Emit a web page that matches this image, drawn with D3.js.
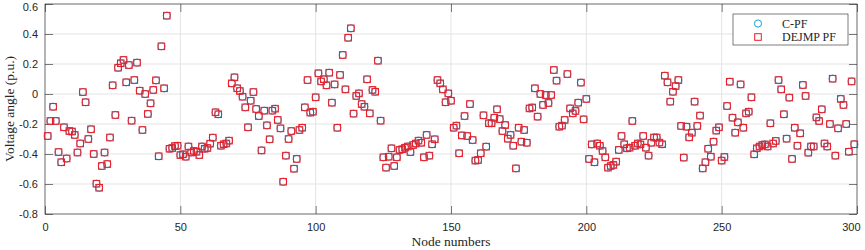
<!DOCTYPE html>
<html>
<head>
<meta charset="utf-8">
<script src="https://cdn.jsdelivr.net/npm/d3@7"></script>
<style>
  body { margin: 0; background: #fff; }
  svg text { fill: #262626; }
</style>
</head>
<body>
<svg id="chart" width="865" height="250"></svg>
<script>
// voltage angle (p.u.) per node (node 1 .. n)
var cpfAngle = [
  -0.28, -0.18, -0.085, -0.18, -0.387, -0.455, -0.222, -0.43, -0.247, -0.25,
  -0.273, -0.39, -0.33, 0.013, -0.055, -0.30, -0.235, -0.40, -0.598, -0.625,
  -0.48, -0.39, -0.467, -0.29, 0.058, -0.14, 0.175, 0.205, 0.227, 0.078,
  0.193, -0.178, 0.093, 0.209, 0.022, -0.24, 0.0, -0.133, -0.062, 0.027,
  0.091, -0.415, 0.318, 0.038, 0.522, -0.365, -0.36, -0.347, -0.345, -0.407,
  -0.402, -0.418, -0.35, -0.39, -0.38, -0.385, -0.407, -0.35, -0.365, -0.36,
  -0.331, -0.291, -0.122, -0.135, -0.345, -0.335, -0.33, -0.311, 0.071, 0.111,
  0.038, 0.02, -0.018, -0.089, -0.222, -0.045, 0.013, -0.10, -0.147, -0.376,
  -0.111, -0.209, -0.302, -0.111, -0.098, -0.173, -0.229, -0.585, -0.411, -0.30,
  -0.247, -0.498, -0.433, -0.24, -0.225, -0.089, 0.093, -0.124, -0.118, -0.022,
  0.138, 0.084, 0.098, 0.058, 0.142, -0.058, 0.064, -0.225, 0.127, 0.26,
  0.031, 0.375, 0.438, -0.131, -0.013, 0.004, -0.067, -0.085, 0.098, -0.129,
  0.027, 0.015, 0.222, -0.178, -0.422, -0.491, -0.418, -0.362, -0.48, -0.422,
  -0.373, -0.368, -0.358, -0.35, -0.387, -0.34, -0.33, -0.311, -0.325, -0.422,
  -0.273, -0.411, -0.335, -0.302, 0.093, 0.071, 0.031, -0.055, 0.004, -0.045,
  -0.225, -0.211, -0.395, -0.276, -0.147, -0.28, -0.067, -0.307, -0.444, -0.44,
  -0.395, -0.142, -0.351, -0.195, -0.195, -0.158, -0.102, -0.167, -0.247, -0.207,
  -0.298, -0.273, -0.345, -0.496, -0.225, -0.318, -0.24, -0.325, -0.096, -0.09,
  0.038, -0.151, 0.0, -0.073, -0.007, -0.06, -0.007, 0.16, 0.089, -0.218,
  -0.211, -0.173, 0.133, -0.096, -0.129, -0.113, -0.058, 0.076, -0.169, -0.033,
  -0.433, -0.336, -0.455, -0.33, -0.345, -0.38, -0.422, -0.491, -0.48, -0.473,
  -0.451, -0.373, -0.28, -0.335, -0.362, -0.358, -0.18, -0.345, -0.33, -0.336,
  -0.28, -0.358, -0.411, -0.325, -0.29, -0.29, -0.324, -0.335, 0.122, 0.078,
  -0.051, 0.015, 0.053, 0.093, -0.213, -0.424, -0.218, -0.289, -0.258, -0.051,
  -0.213, -0.144, -0.496, -0.455, -0.365, -0.418, -0.318, -0.244, -0.222, -0.444,
  -0.42, -0.08, 0.082, -0.158, -0.258, -0.189, 0.064, -0.225, -0.129, -0.118,
  -0.022, -0.402, -0.362, -0.35, -0.34, -0.336, -0.35, -0.195, -0.33, -0.313,
  0.093, 0.031, -0.135, -0.298, -0.024, -0.433, -0.225, -0.345, -0.262, 0.06,
  -0.013, -0.391, -0.35, -0.35, -0.156, -0.18, -0.102, -0.33, -0.35, -0.2,
  0.102, -0.411, -0.229, -0.033, -0.073, -0.2, -0.385, 0.084, -0.335
];
// the distributed solver lands on the same angles
var dejmpAngle = cpfAngle.slice();
var xTicks = [0, 50, 100, 150, 200, 250, 300];
var yTicks = [-0.8, -0.6, -0.4, -0.2, 0, 0.2, 0.4, 0.6];
var seriesNames = ["C-PF", "DEJMP PF"];

var svg = d3.select("#chart");
var margin = { left: 45, right: 8, top: 4, bottom: 36 };
var width = 865 - margin.left - margin.right,
    height = 250 - margin.top - margin.bottom;
var g = svg.append("g").attr("transform", "translate(" + margin.left + "," + margin.top + ")");

var x = d3.scaleLinear().domain([0, 300]).range([0, width]);
var y = d3.scaleLinear().domain([-0.8, 0.6]).range([height, 0]);

// grid
g.append("g").selectAll("line").data(yTicks).enter().append("line")
  .attr("x1", 0).attr("x2", width)
  .attr("y1", function (d) { return y(d); }).attr("y2", function (d) { return y(d); })
  .attr("stroke", "#e3e3e3").attr("stroke-width", 1);
g.append("g").selectAll("line").data(xTicks).enter().append("line")
  .attr("y1", 0).attr("y2", height)
  .attr("x1", function (d) { return x(d); }).attr("x2", function (d) { return x(d); })
  .attr("stroke", "#e3e3e3").attr("stroke-width", 1);

// axes, ticks pointing inwards on all four sides
var fmtY = function (d) { return d === 0 ? "0" : d3.format(".1f")(d).replace("−", "-"); };
var tickFont = "Liberation Sans, Arial, sans-serif";
var axB = g.append("g").attr("transform", "translate(0," + height + ")")
  .call(d3.axisBottom(x).tickValues(xTicks).tickSizeInner(-8).tickSizeOuter(0).tickPadding(14));
var axL = g.append("g")
  .call(d3.axisLeft(y).tickValues(yTicks).tickFormat(fmtY).tickSizeInner(-8).tickSizeOuter(0).tickPadding(14));
var axT = g.append("g")
  .call(d3.axisTop(x).tickValues(xTicks).tickSizeInner(-8).tickSizeOuter(0).tickFormat(""));
var axR = g.append("g").attr("transform", "translate(" + width + ",0)")
  .call(d3.axisRight(y).tickValues(yTicks).tickSizeInner(-8).tickSizeOuter(0).tickFormat(""));
[axB, axL, axT, axR].forEach(function (a) {
  a.select(".domain").remove();
  a.selectAll(".tick line").attr("stroke", "#262626").attr("stroke-width", 0.6);
  a.selectAll("text").attr("font-family", tickFont).attr("font-size", 11).attr("fill", "#262626");
});
axL.selectAll("text").attr("dx", 7);
axB.selectAll("text").attr("dy", "0.3em");
// keep the end labels inside the picture
axB.selectAll(".tick").filter(function (d) { return d === 300; }).select("text")
  .attr("text-anchor", "end").attr("dx", 3);
axL.selectAll(".tick").filter(function (d) { return d === 0.6; }).select("text")
  .attr("dy", "0.62em");

g.append("rect").attr("width", width).attr("height", height)
  .attr("fill", "none").attr("stroke", "#262626").attr("stroke-width", 0.6);

// markers
var cyan = "#1e9fd6", red = "#ee1c25";
g.append("g").selectAll("circle").data(cpfAngle).enter().append("circle")
  .attr("cx", function (d, i) { return x(i + 1); })
  .attr("cy", function (d) { return y(d); })
  .attr("r", 3.6).attr("fill", "none").attr("stroke", cyan).attr("stroke-width", 1);
var s = 6.6;
g.append("g").selectAll("rect").data(dejmpAngle).enter().append("rect")
  .attr("x", function (d, i) { return x(i + 1) - s / 2; })
  .attr("y", function (d) { return y(d) - s / 2; })
  .attr("width", s).attr("height", s)
  .attr("fill", "none").attr("stroke", red).attr("stroke-width", 1);

// legend
var serif = "Liberation Serif, Times New Roman, serif";
var lg = svg.append("g").attr("transform", "translate(733,14)");
lg.append("rect").attr("width", 115).attr("height", 31)
  .attr("fill", "#fff").attr("stroke", "#262626").attr("stroke-width", 0.6);
lg.append("circle").attr("cx", 25).attr("cy", 9.5).attr("r", 3.6)
  .attr("fill", "none").attr("stroke", cyan).attr("stroke-width", 1);
lg.append("rect").attr("x", 25 - s / 2).attr("y", 23 - s / 2).attr("width", s).attr("height", s)
  .attr("fill", "none").attr("stroke", red).attr("stroke-width", 1);
lg.selectAll("text").data(seriesNames).enter().append("text")
  .attr("x", 49).attr("y", function (d, i) { return 13.5 + i * 13.5; })
  .attr("font-family", serif).attr("font-size", 12).text(function (d) { return d; });

// axis titles
svg.append("text").attr("x", margin.left + width / 2).attr("y", 246)
  .attr("text-anchor", "middle").attr("font-family", serif).attr("font-size", 13.5)
  .text("Node numbers");
svg.append("text").attr("transform", "translate(14," + (margin.top + height / 2) + ") rotate(-90)")
  .attr("text-anchor", "middle").attr("font-family", serif).attr("font-size", 13.5)
  .text("Voltage angle (p.u.)");
</script>
</body>
</html>
